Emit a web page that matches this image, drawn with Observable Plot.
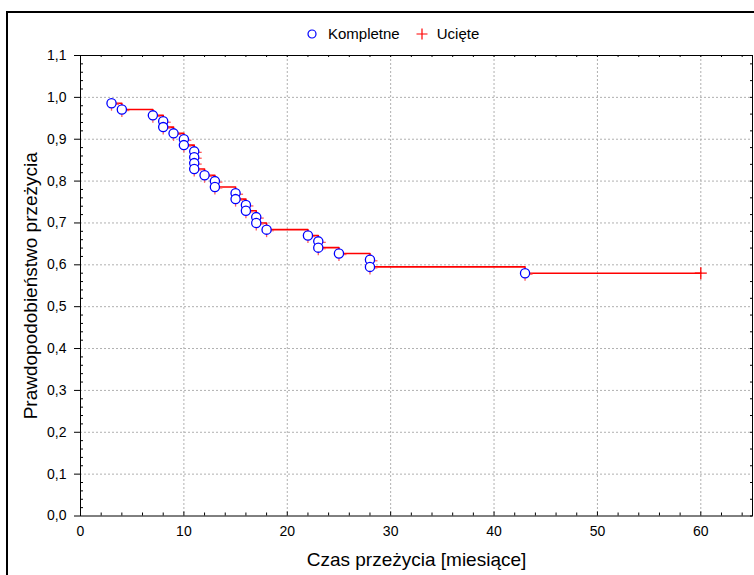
<!DOCTYPE html>
<html>
<head>
<meta charset="utf-8">
<script src="https://cdn.jsdelivr.net/npm/d3@7"></script>
<script src="https://cdn.jsdelivr.net/npm/@observablehq/plot@0.6"></script>
<style>
  html, body { margin: 0; padding: 0; background: #fff; }
  body { width: 754px; height: 575px; position: relative; overflow: hidden;
         font-family: "Liberation Sans", Arial, sans-serif; }
  #border { position: absolute; left: 6px; top: 11px; width: 800px; height: 600px;
            border-left: 2px solid #000; border-top: 2px solid #000; }
  #chart { position: absolute; left: 0; top: 0; }
  #legend { position: absolute; left: 307px; top: 25px; height: 17px; display: flex;
            align-items: center; font-size: 15px; color: #000; white-space: nowrap; }
  #legend svg { display: block; }
  #chart g[aria-label="x-axis label"] text,
  #chart g[aria-label="y-axis label"] text,
  #chart g[aria-label="x-axis label"],
  #chart g[aria-label="y-axis label"] { font-size: 19px; }
</style>
</head>
<body>
<div id="border"></div>
<div id="chart"></div>
<div id="legend">
  <svg width="10" height="10"><circle cx="5" cy="5" r="4" fill="none" stroke="#0000ff" stroke-width="1.2"/></svg>
  <span style="margin-left:11px">Kompletne</span>
  <svg width="12" height="12" style="margin-left:16px"><path d="M0.5,6H11.5M6,0.5V11.5" stroke="#ff0000" stroke-width="1.2"/></svg>
  <span style="margin-left:9px">Ucięte</span>
</div>
<script>
// Kaplan–Meier estimate: completed observations (events) and censored ones
const eventTimes = [3, 4, 7, 8, 8, 9, 10, 10, 11, 11, 11, 11, 12, 13, 13, 15, 15, 16, 16, 17, 17, 18, 22, 23, 23, 25, 28, 28, 43];
const eventSurvival = [0.986, 0.971, 0.957, 0.943, 0.929, 0.914, 0.900, 0.886, 0.871, 0.857, 0.843, 0.829, 0.814, 0.800, 0.786, 0.771, 0.757, 0.743, 0.729, 0.714, 0.700, 0.684, 0.670, 0.656, 0.641, 0.627, 0.612, 0.595, 0.580];
const censoredTimes = [60];
const censoredSurvival = [0.580];

const xTicks = [0, 10, 20, 30, 40, 50, 60];
const yTicks = [0, 0.1, 0.2, 0.3, 0.4, 0.5, 0.6, 0.7, 0.8, 0.9, 1.0, 1.1];
const xLabel = "Czas przeżycia [miesiące]";
const yLabel = "Prawdopodobieństwo przeżycia";

const events = eventTimes.map((t, i) => ({t, s: eventSurvival[i]}));
const censored = censoredTimes.map((t, i) => ({t, s: censoredSurvival[i]}));
const curve = [...events, ...censored].sort((a, b) => a.t - b.t);

// minor tick positions between the labelled ticks
const xMinor = d3.range(0, 65, 2).filter(v => v % 10 !== 0);
const yMinor = d3.range(0, 111, 2).filter(v => v % 10 !== 0).map(v => v / 100);
const yRight = d3.range(0, 111, 4).map(v => v / 100);
const xTop = d3.range(0, 65, 2);

// thin "+" drawn with strokes, used for censored observations
const plusSymbol = {
  draw(context, size) {
    const r = Math.sqrt(size / Math.PI);
    context.moveTo(-r, 0); context.lineTo(r, 0);
    context.moveTo(0, -r); context.lineTo(0, r);
  }
};

const comma = d => d.toFixed(1).replace(".", ",");

const chart = Plot.plot({
  width: 754,
  height: 575,
  marginLeft: 80,
  marginRight: 2,
  marginTop: 55,
  marginBottom: 59.5,
  style: {fontFamily: "'Liberation Sans', Arial, sans-serif", fontSize: "14px", background: "transparent", color: "#000", overflow: "visible"},
  x: {domain: [0, 65]},
  y: {domain: [0, 1.1]},
  marks: [
    Plot.gridX(xTicks.filter(d => d > 0), {stroke: "#b0b0b0", strokeOpacity: 1, strokeDasharray: "2,2"}),
    Plot.gridY(yTicks.filter(d => d > 0 && d < 1.1), {stroke: "#b0b0b0", strokeOpacity: 1, strokeDasharray: "2,2"}),
    // inward ticks on the bottom axis
    Plot.ruleX(xTicks, {x: d => d, y1: 0, y2: 0, insetTop: -4, stroke: "#000"}),
    Plot.ruleX(xMinor, {x: d => d, y1: 0, y2: 0, insetTop: -3, stroke: "#000"}),
    // inward minor ticks on the left axis
    Plot.ruleY(yMinor, {y: d => d, x1: 0, x2: 0, insetRight: -3, stroke: "#000"}),
    // inward ticks on the top and right edges
    Plot.ruleX(xTop, {x: d => d, y1: 1.1, y2: 1.1, insetBottom: -2, stroke: "#000"}),
    Plot.ruleY(yRight, {y: d => d, x1: 65, x2: 65, insetLeft: -2, stroke: "#000"}),
    // survival step curve
    Plot.line(curve, {x: "t", y: "s", curve: "step-after", stroke: "#ff0000", strokeWidth: 1.6}),
    Plot.ruleX(events, {x: "t", y1: "s", y2: "s", insetBottom: -8, stroke: "#ff5a5a", strokeWidth: 1.3}),
    Plot.ruleY(events, {y: "s", x1: "t", x2: "t", insetRight: -8, dy: 1, stroke: "#ff5a5a", strokeWidth: 1.3}),
    Plot.dot(events, {x: "t", y: "s", r: 4.6, stroke: "#0000ff", fill: "#fff", strokeWidth: 1.3}),
    Plot.dot(censored, {x: "t", y: "s", r: 6, symbol: plusSymbol, stroke: "#ff0000", fill: "none", strokeWidth: 1.3}),
    Plot.frame({stroke: "#000", strokeWidth: 1}),
    Plot.axisX({ticks: xTicks, tickSize: 0, tickPadding: 10, tickFormat: d => String(d),
      label: xLabel, labelAnchor: "center", labelArrow: "none", labelOffset: 50}),
    Plot.axisY({ticks: yTicks, tickSize: 6, tickPadding: 8, tickFormat: comma,
      label: yLabel, labelAnchor: "center", labelArrow: "none", labelOffset: 57})
  ]
});
document.getElementById("chart").appendChild(chart);
</script>
</body>
</html>
